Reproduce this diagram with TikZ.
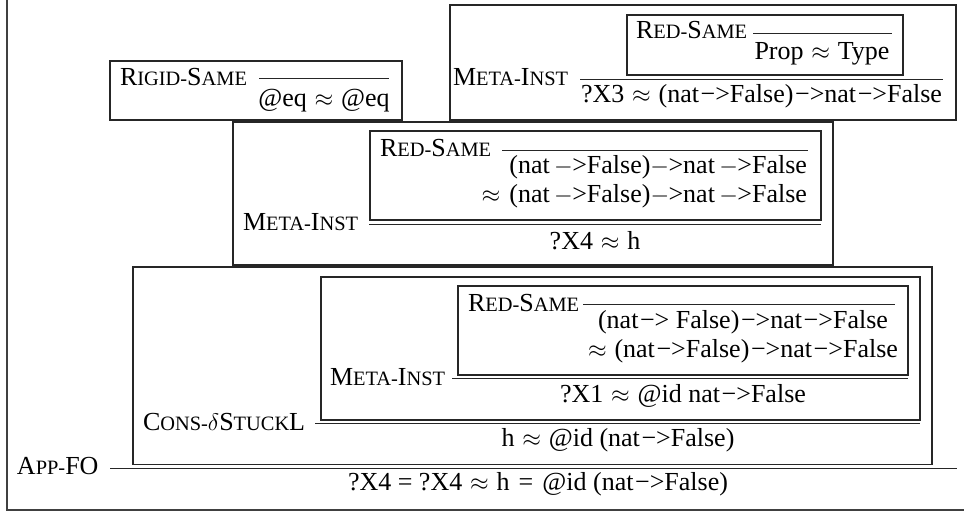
\documentclass[tikz,border=0pt]{standalone}
\usepackage{fontspec}
\setmainfont{Liberation Serif}
% fake small capitals for rule names
\newcommand\smc[1]{{\fontsize{10.2}{12}\selectfont #1}}
\newcommand\apx{\hspace{0.3em}$\approx$\hspace{0.3em}}
\newcommand\arr{\kern0.8pt−>}
% wider arrows with a math minus
\newcommand\arrw{\kern2.2pt$-$\kern-0.3pt>}
\newcommand\arrn{$-$\kern-0.3pt>}
\begin{document}
\begin{tikzpicture}[x=0.5pt,y=-0.5pt,
  every node/.style={inner sep=0pt,outer sep=0pt,font=\fontsize{13}{15}\selectfont},
  boxline/.style={draw=black!85,line width=0.6pt},
  ruleline/.style={draw=black!85,line width=0.5pt},
  frameline/.style={draw=black!75,line width=0.9pt},
  lbl/.style={anchor=base west},
  cnc/.style={anchor=base},
  rgt/.style={anchor=base east}]
\useasboundingbox (0,0) rectangle (964,515);

% outer frame (left and bottom edges)
\draw[frameline] (7,0) -- (7,510) -- (964,510);

% ---- Rigid-Same ----
\draw[boxline] (110,61) rectangle (402,120);
\node[lbl] (rigidL) at (120,85) {R\smc{IGID-}S\smc{AME}};
\draw[ruleline] (259,78.5) -- (389,78.5);
\node[cnc] (rigidC) at (324,106) {@eq\apx @eq};

% ---- Meta-Inst (top right) ----
\draw[boxline] (450,5) rectangle (956,120);
\draw[boxline] (627,15) rectangle (903,75);
\node[lbl] (redAL) at (636,38) {R\smc{ED-}S\smc{AME}};
\draw[ruleline] (753,33.5) -- (892,33.5);
\node[cnc] (redAC) at (822,59) {Prop\apx Type};
\node[lbl] (metaAL) at (453,85) {M\smc{ETA-}I\smc{NST}};
\draw[ruleline] (580,79) -- (943,79);
\node[cnc] (metaAC) at (761.5,102) {?X3\apx (nat\arr False)\arr nat\arr False};

% ---- Meta-Inst (middle) ----
\draw[boxline] (233,122) rectangle (833,265);
\draw[boxline] (370,131) rectangle (821,220);
\node[lbl] (redBL) at (380,156) {R\smc{ED-}S\smc{AME}};
\draw[ruleline] (502,150) -- (808,150);
\node[rgt] (redBC1) at (807,173) {(nat\arrw False)\arrn nat\arrw False};
\node[rgt] (redBC2) at (807,202) {$\approx$\hspace{0.35em}(nat\arrw False)\arrn nat\arrw False};
\node[lbl] (metaBL) at (243,230) {M\smc{ETA-}I\smc{NST}};
\draw[ruleline] (369,224.3) -- (821,224.3);
\node[cnc] (metaBC) at (595,249) {?X4\apx h};

% ---- Cons-delta-StuckL ----
\draw[boxline] (133,267) rectangle (932,464.5);
\draw[boxline] (321,277) rectangle (920,420);
\draw[boxline] (458,286) rectangle (908,375);
\node[lbl] (redCL) at (468,311) {R\smc{ED-}S\smc{AME}};
\draw[ruleline] (583,304) -- (895,304);
\node[cnc] (redCC1) at (743,328) {(nat\arr\ False)\arr nat\arr False};
\node[cnc] (redCC2) at (743,357) {$\approx$\hspace{0.3em}(nat\arr False)\arr nat\arr False};
\node[lbl] (metaCL) at (330,385) {M\smc{ETA-}I\smc{NST}};
\draw[ruleline] (452,378.5) -- (908,378.5);
\node[cnc] (metaCC) at (683,402) {?X1\apx @id nat\arr False};
\node[lbl] (consL) at (143,430) {C\smc{ONS-}$\delta$S\smc{TUCK}L};
\draw[ruleline] (315,423.5) -- (920,423.5);
\node[cnc] (consC) at (618,446.5) {h\apx @id (nat\arr False)};

% ---- App-FO (root) ----
\node[lbl] (appL) at (17,474) {A\smc{PP-}FO};
\draw[ruleline] (110,468) -- (957,468);
\node[cnc] (appC) at (538,490) {?X4 = ?X4\apx h\hspace{0.35em}=\hspace{0.35em}@id (nat\arr False)};
\end{tikzpicture}
\end{document}
